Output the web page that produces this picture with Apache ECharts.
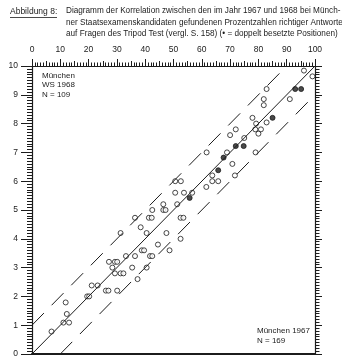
<!DOCTYPE html>
<html>
<head>
<meta charset="utf-8">
<script src="https://cdn.jsdelivr.net/npm/echarts@6/dist/echarts.min.js"></script>
<style>html,body{margin:0;padding:0;background:#fff}#c{width:342px;height:363px}</style>
</head>
<body>
<div id="c"></div>
<script>
// ---- data ----
const xTickLabels = [0, 10, 20, 30, 40, 50, 60, 70, 80, 90, 100];
const yTickLabels = [0, 1, 2, 3, 4, 5, 6, 7, 8, 9, 10];

// open circles: München 1967 (x, %) vs WS 1968 (y, %/10)
const openX = [6.9, 11.1, 13.1, 12.3, 11.9, 19.5, 20.2, 21.1, 23.2, 26.1, 27.0, 30.1,
  27.2, 29.3, 30.1, 28.4, 29.3, 31.3, 32.3, 33.2, 35.4, 36.4, 37.3, 38.8, 39.6, 40.5,
  41.7, 42.5, 44.5, 48.6, 38.4, 40.5, 31.3, 36.4, 41.3, 42.3, 42.5, 46.4, 47.2, 46.4,
  47.5, 51.3, 50.6, 52.6, 50.6, 53.7, 56.6, 52.5, 53.5, 61.6, 52.5,
  63.7, 63.7, 65.8, 68.9, 61.7, 70.8, 71.7, 75.0, 70.0, 72.0, 77.9, 79.2, 78.9, 80.9,
  80.0, 79.0, 82.9, 81.9, 81.9, 82.9, 91.1, 96.1, 99.1];
const openY = [0.78, 1.09, 1.09, 1.39, 1.79, 2.0, 2.0, 2.38, 2.38, 2.2, 2.2, 2.2,
  3.2, 3.2, 3.2, 3.0, 2.8, 2.8, 2.8, 3.4, 3.0, 3.4, 2.6, 3.6, 3.6, 3.0,
  3.4, 3.4, 3.8, 3.6, 4.4, 4.2, 4.2, 4.73, 4.73, 4.73, 5.0, 5.0, 5.0, 5.2,
  4.2, 5.2, 6.0, 6.0, 5.6, 5.6, 5.6, 4.73, 4.73, 5.8, 4.0,
  6.2, 6.0, 6.0, 7.0, 7.0, 6.6, 6.2, 7.5, 7.6, 7.8, 8.2, 8.0, 7.8, 7.8,
  7.65, 7.0, 8.04, 8.85, 8.64, 9.2, 8.85, 9.84, 9.64];

// filled dots (doubly occupied positions)
const fullX = [55.7, 65.8, 67.7, 72.0, 74.8, 85.0, 93.0, 95.1];
const fullY = [5.42, 6.38, 6.82, 7.22, 7.22, 8.2, 9.2, 9.2];

// reference lines
const diagX = [0, 100], diagY = [0, 10];
const upperX = [0, 90], upperY = [1, 10];
const lowerX = [10, 100], lowerY = [0, 9];

const titleLines = [
  'Diagramm der Korrelation zwischen den im Jahr 1967 und 1968 bei Münch-',
  'ner Staatsexamenskandidaten gefundenen Prozentzahlen richtiger Antworten',
  'auf Fragen des Tripod Test (vergl. S. 158) (• = doppelt besetzte Positionen)'
];

// ---- chart ----
const ink = '#1c1c1c';
const font = 'Liberation Sans';
const zip = (a, b) => a.map((v, i) => [v, b[i]]);
const chart = echarts.init(document.getElementById('c'), null, {renderer: 'canvas'});
const gridRect = {left: 32, right: 27, top: 66, bottom: 9};

const textEl = (x, y, t, size, extra) => Object.assign({
  type: 'text', x: x, y: y,
  style: {text: t, fill: ink, font: size + 'px "' + font + '"', textVerticalAlign: 'middle'}
}, extra || {});

chart.setOption({
  animation: false,
  backgroundColor: '#fff',
  grid: [Object.assign({}, gridRect), Object.assign({}, gridRect)],
  xAxis: [
    {type: 'value', gridIndex: 0, position: 'top', min: 0, max: 100, interval: 10,
     axisLine: {show: true, onZero: false, lineStyle: {color: ink, width: 1.2}},
     axisTick: {show: true, length: 7, lineStyle: {color: ink}},
     minorTick: {show: true, splitNumber: 10, length: 3.5, lineStyle: {color: ink}},
     axisLabel: {show: true, margin: 12, color: ink, fontSize: 8.5, fontFamily: font,
       formatter: v => xTickLabels.indexOf(v) >= 0 ? String(v) : ''},
     splitLine: {show: false}},
    {type: 'value', gridIndex: 0, position: 'bottom', min: 0, max: 100, interval: 10,
     axisLine: {show: true, onZero: false, lineStyle: {color: ink, width: 2.2}},
     axisTick: {show: false}, axisLabel: {show: false}, splitLine: {show: false}},
    {type: 'value', gridIndex: 1, position: 'top', min: 0, max: 100, interval: 5,
     axisLine: {show: false, onZero: false}, axisTick: {show: true, length: 5, lineStyle: {color: ink}},
     axisLabel: {show: false}, splitLine: {show: false}}
  ],
  yAxis: [
    {type: 'value', gridIndex: 0, position: 'left', min: 0, max: 10, interval: 1,
     axisLine: {show: true, onZero: false, lineStyle: {color: ink, width: 1.2}},
     axisTick: {show: true, length: 11, lineStyle: {color: ink}},
     minorTick: {show: true, splitNumber: 10, length: 5, lineStyle: {color: ink}},
     axisLabel: {show: true, margin: 14, color: ink, fontSize: 8.5, fontFamily: font,
       formatter: v => yTickLabels.indexOf(v) >= 0 ? String(v) : ''},
     splitLine: {show: false}},
    {type: 'value', gridIndex: 0, position: 'right', min: 0, max: 10, interval: 1,
     axisLine: {show: true, onZero: false, lineStyle: {color: ink, width: 1.2}},
     axisTick: {show: true, length: 7, lineStyle: {color: ink}},
     minorTick: {show: true, splitNumber: 10, length: 4.5, lineStyle: {color: ink}},
     axisLabel: {show: false}, splitLine: {show: false}},
    {type: 'value', gridIndex: 1, position: 'left', min: 0, max: 10, interval: 1, show: false,
     axisLine: {onZero: false}}
  ],
  series: [
    {type: 'line', xAxisIndex: 0, yAxisIndex: 0, data: zip(diagX, diagY), showSymbol: false,
     lineStyle: {color: ink, width: 1}, silent: true},
    {type: 'line', xAxisIndex: 0, yAxisIndex: 0, data: zip(upperX, upperY), showSymbol: false,
     lineStyle: {color: ink, width: 1, type: [17, 11]}, silent: true},
    {type: 'line', xAxisIndex: 0, yAxisIndex: 0, data: zip(lowerX, lowerY), showSymbol: false,
     lineStyle: {color: ink, width: 1, type: [17, 11]}, silent: true},
    {type: 'scatter', xAxisIndex: 0, yAxisIndex: 0, data: zip(openX, openY), symbol: 'circle',
     symbolSize: 5, itemStyle: {color: '#fff', borderColor: ink, borderWidth: 1}},
    {type: 'scatter', xAxisIndex: 0, yAxisIndex: 0, data: zip(fullX, fullY), symbol: 'circle',
     symbolSize: 5, itemStyle: {color: ink, borderColor: ink, borderWidth: 1}}
  ],
  graphic: [
    textEl(10, 12, 'Abbildung 8:', 8.5),
    {type: 'line', shape: {x1: 10, y1: 17.5, x2: 57, y2: 17.5}, style: {stroke: ink, lineWidth: 0.8}},
    textEl(66, 11, titleLines[0], 8.2),
    textEl(66, 22.5, titleLines[1], 8.2),
    textEl(66, 33.5, titleLines[2], 8.2),
    textEl(42, 75.5, 'München', 8),
    textEl(42, 85, 'WS 1968', 8),
    textEl(42, 94.5, 'N = 109', 8),
    textEl(257, 331, 'München 1967', 8),
    textEl(257, 341, 'N = 169', 8)
  ]
});
</script>
</body>
</html>
